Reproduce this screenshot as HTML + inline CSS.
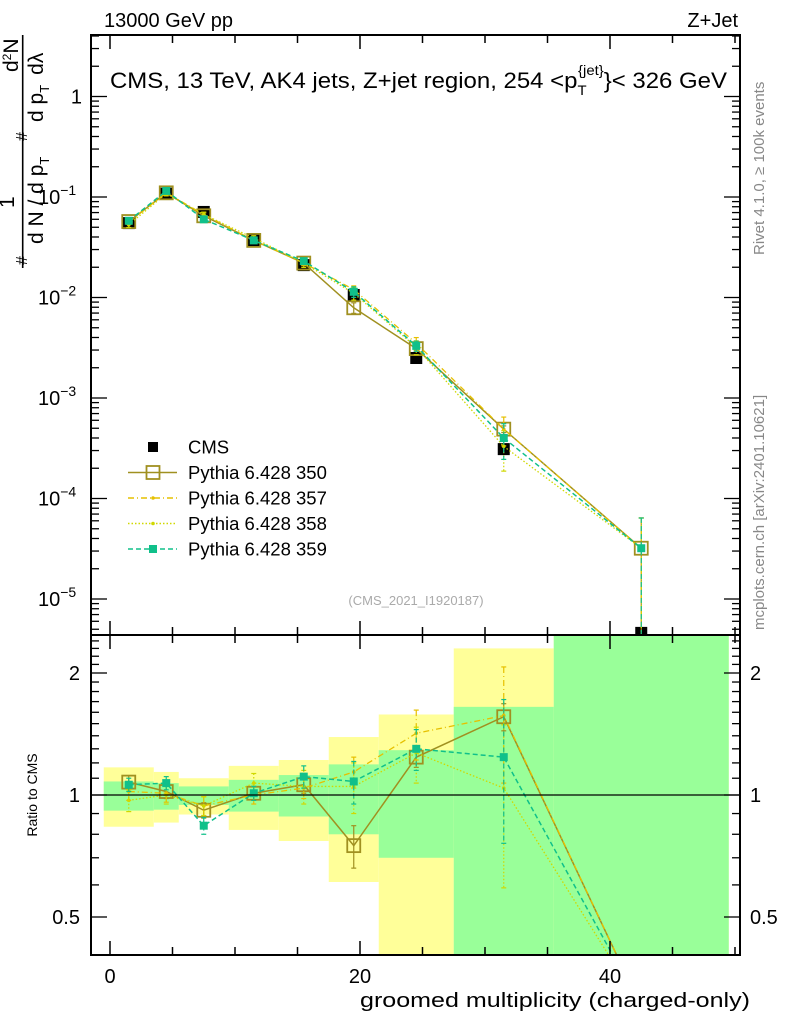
<!DOCTYPE html>
<html><head><meta charset="utf-8"><style>
html,body{margin:0;padding:0;background:#fff;overflow:hidden;width:786px;height:1024px;}
svg{display:block;font-family:"Liberation Sans",sans-serif;}
</style></head><body>
<svg id="c" width="786" height="1024" viewBox="0 0 786 1024" xmlns="http://www.w3.org/2000/svg">
<defs>
<clipPath id="cm"><rect x="91" y="35" width="649" height="600"/></clipPath>
<clipPath id="cr"><rect x="91" y="635" width="649" height="320"/></clipPath>
</defs>
<g id="bands" clip-path="url(#cr)"></g>
<g id="main" clip-path="url(#cm)"></g>
<g id="ratio" clip-path="url(#cr)"></g>
<g id="axes"></g>
<text x="104" y="27" font-size="20">13000 GeV pp</text>
<text x="738" y="27" font-size="20" text-anchor="end">Z+Jet</text>
<text x="110" y="88" font-size="22.5" textLength="617" lengthAdjust="spacingAndGlyphs">CMS, 13 TeV, AK4 jets, Z+jet region, 254 &lt;p<tspan font-size="14" dy="7">T</tspan><tspan font-size="14" dx="-8" dy="-20">{jet}</tspan><tspan dy="13">}&lt; 326 GeV</tspan></text>
<text x="416" y="605" font-size="13" fill="#aaa" text-anchor="middle">(CMS_2021_I1920187)</text>
<text transform="translate(764,255) rotate(-90)" font-size="15" fill="#888">Rivet 4.1.0, ≥ 100k events</text>
<text transform="translate(764,630) rotate(-90)" font-size="15" fill="#888">mcplots.cern.ch [arXiv:2401.10621]</text>
<text x="750" y="1007" font-size="20" text-anchor="end" textLength="390" lengthAdjust="spacingAndGlyphs">groomed multiplicity (charged-only)</text>
<text transform="translate(37,795) rotate(-90)" font-size="14" text-anchor="middle">Ratio to CMS</text>
<g font-size="21">
<text transform="translate(14,208) rotate(-90)">1</text>
<text transform="translate(18,72) rotate(-90)">d<tspan font-size="12" dy="-7">2</tspan><tspan dy="7">N</tspan></text>
<line x1="22.7" y1="35" x2="22.7" y2="268" stroke="#000" stroke-width="1.6"/>
<text transform="translate(27,265) rotate(-90)" font-size="16">#</text>
<text transform="translate(43,244) rotate(-90)">d N / d p<tspan font-size="13" dy="6">T</tspan></text>
<text transform="translate(27,141) rotate(-90)" font-size="16">#</text>
<text transform="translate(43,122) rotate(-90)">d p<tspan font-size="13" dy="6">T</tspan><tspan dx="10" dy="-6">dλ</tspan></text>
</g>
<g id="legend"></g>
</svg>
<script>
const edges=[-0.5,3.5,5.5,9.5,13.5,17.5,21.5,27.5,35.5,49.5];
const centers=[1.5,4.5,7.5,11.5,15.5,19.5,24.5,31.5,42.5];
const cms=[0.055,0.108,0.071,0.037,0.021,0.0106,0.0025,0.00031,0.0000046];
const p350=[0.057,0.11,0.065,0.037,0.022,0.0079,0.0031,0.00049,0.000032];
const p357=[0.056,0.11,0.067,0.037,0.022,0.012,0.0035,0.00049,0.000032];
const p358=[0.053,0.108,0.067,0.039,0.022,0.011,0.0032,0.00033,0.000032];
const p359=[0.058,0.115,0.06,0.037,0.023,0.0114,0.0033,0.0004,0.000032];
const r350=[1.076,1.02,0.917,1.01,1.06,0.75,1.24,1.56,0.3];
const r357=[1.02,1.01,0.94,1.0,1.04,1.14,1.42,1.57,0.3];
const r358=[0.97,1.0,0.94,1.07,1.05,1.05,1.27,1.04,0.3];
const r359=[1.06,1.07,0.84,1.01,1.11,1.08,1.30,1.24,0.3];
const e350=[0.04,0.04,0.04,0.04,0.05,0.09,0.07,0.12,0.3];
const e357=[0.05,0.05,0.05,0.05,0.06,0.1,0.2,0.5,0.3];
const e358=[0.06,0.05,0.05,0.06,0.1,0.15,0.2,0.45,0.3];
const e359=[0.04,0.04,0.04,0.04,0.07,0.13,0.15,0.48,0.3];
const yelLo=[0.835,0.855,0.895,0.82,0.77,0.61,0.39,0.39,0.39];
const yelHi=[1.17,1.14,1.10,1.18,1.22,1.39,1.58,2.30,2.6];
const grnLo=[0.915,0.92,0.945,0.91,0.885,0.80,0.70,0.39,0.39];
const grnHi=[1.08,1.07,1.05,1.09,1.12,1.19,1.29,1.65,2.6];
const xTicks=[0,20,40];
const mainTicks=[0,-1,-2,-3,-4,-5];
const ratioTicks=[2,1,0.5];
const X=v=>110+12.5*v;
const Y=v=>96.5-100.5*Math.log10(Math.max(v,1e-9));
const R=v=>795-122*Math.log2(Math.max(v,0.01));
const NS="http://www.w3.org/2000/svg";
function mk(p,t,a){const e=document.createElementNS(NS,t);for(const k in a)e.setAttribute(k,a[k]);document.getElementById(p).appendChild(e);return e;}
for(let i=0;i<centers.length;i++){
 let e=mk('bands','rect',{x:X(edges[i]),y:R(yelHi[i]),width:X(edges[i+1])-X(edges[i]),height:R(yelLo[i])-R(yelHi[i]),fill:'#ffff99'});
 
 
}
for(let i=0;i<centers.length;i++){
 let e=mk('bands','rect',{x:X(edges[i]),y:R(grnHi[i]),width:X(edges[i+1])-X(edges[i]),height:R(grnLo[i])-R(grnHi[i]),fill:'#99ff99'});
 
 
}
const series=[
 {n:'pythia-350',v:p350,r:r350,e:e350,c:'#a09020',d:'',w:1.5,m:'sq'},
 {n:'pythia-357',v:p357,r:r357,e:e357,c:'#e6c000',d:'6,3,1,3',w:1.3,m:'dot'},
 {n:'pythia-358',v:p358,r:r358,e:e358,c:'#d0d800',d:'1.5,2',w:1.3,m:'dot'},
 {n:'pythia-359',v:p359,r:r359,e:e359,c:'#10c08a',d:'5,3',w:1.5,m:'fsq'}];
function marker(g,m,x,y,c,name){
 let e;
 if(m==='sq')e=mk(g,'rect',{x:x-6.5,y:y-6.5,width:13,height:13,fill:'none',stroke:c,'stroke-width':1.8});
 else if(m==='fsq')e=mk(g,'rect',{x:x-4,y:y-4,width:8,height:8,fill:c});
 else e=mk(g,'circle',{cx:x,cy:y,r:1.8,fill:c});
 
 
}
function ebar(g,x,y1,y2,c,d,name){
 let e=mk(g,'line',{x1:x,x2:x,y1:y1,y2:y2,stroke:c,'stroke-width':1.2,'stroke-dasharray':d});
 
 
 mk(g,'line',{x1:x-2.5,x2:x+2.5,y1:y1,y2:y1,stroke:c,'stroke-width':1.2});
 mk(g,'line',{x1:x-2.5,x2:x+2.5,y1:y2,y2:y2,stroke:c,'stroke-width':1.2});
}
for(let i=0;i<centers.length;i++){
 let e=mk('main','rect',{x:X(centers[i])-6,y:Y(cms[i])-6,width:12,height:12,fill:'#000'});
 
 
}
series.forEach(s=>{
 s.v.forEach((v,i)=>{const f=s.e[i]/s.r[i];ebar('main',X(centers[i]),Y(v*(1+f)),Y(v*Math.max(1-f,0.001)),s.c,s.d,s.n+'-error-bar');});
 s.r.forEach((v,i)=>{if(v<0.4)return;ebar('ratio',X(centers[i]),R(v+s.e[i]),R(Math.max(v-s.e[i],0.01)),s.c,s.d,s.n+'-ratio-error-bar');});
 let pm=s.v.map((v,i)=>X(centers[i])+','+Y(v)).join(' ');
 let l=mk('main','polyline',{points:pm,fill:'none',stroke:s.c,'stroke-width':s.w,'stroke-dasharray':s.d});
 
 
 s.v.forEach((v,i)=>marker('main',s.m,X(centers[i]),Y(v),s.c,s.n+'-point'));
 let pr=s.r.map((v,i)=>X(centers[i])+','+R(v)).join(' ');
 let l2=mk('ratio','polyline',{points:pr,fill:'none',stroke:s.c,'stroke-width':s.w,'stroke-dasharray':s.d});
 
 
 s.r.forEach((v,i)=>marker('ratio',s.m,X(centers[i]),R(v),s.c,s.n+'-ratio-point'));
});
let ref=mk('axes','line',{x1:91,x2:740,y1:R(1),y2:R(1),stroke:'#000','stroke-width':1.2});


for(const [y,h] of [[35,600],[635,320]]){
 let f=mk('axes','rect',{x:91,y:y,width:649,height:h,fill:'none',stroke:'#000','stroke-width':2});
 
 
}
for(let v=0;v<=50;v+=5){
 const L=(v%20===0)?14:8;
 for(const [yb,yt] of [[955,635],[635,35]]){
  mk('axes','line',{x1:X(v),x2:X(v),y1:yb,y2:yb-L,stroke:'#000','stroke-width':1.5});
  mk('axes','line',{x1:X(v),x2:X(v),y1:yt,y2:yt+L,stroke:'#000','stroke-width':1.5});
 }
}
xTicks.forEach(v=>{
 let t=mk('axes','text',{x:X(v),y:983,'font-size':20,'text-anchor':'middle'});t.textContent=v;
 
 
});
for(let d=1;d>=-6;d--){
 for(let k=1;k<10;k++){
  const yy=Y(k*Math.pow(10,d));
  if(yy<35||yy>635)continue;
  const L=k===1?16:8;
  mk('axes','line',{x1:91,x2:91+L,y1:yy,y2:yy,stroke:'#000','stroke-width':1.3});
  mk('axes','line',{x1:740,x2:740-L,y1:yy,y2:yy,stroke:'#000','stroke-width':1.3});
 }
}
mainTicks.forEach(d=>{
 let t;
 if(d===0){t=mk('axes','text',{x:82,y:Y(1)+7,'font-size':20,'text-anchor':'end'});t.textContent='1';}
 else{
  t=mk('axes','text',{x:38,y:Y(Math.pow(10,d))+7,'font-size':20});
  t.textContent='10';
  const s=document.createElementNS(NS,'tspan');s.setAttribute('dy','-9');s.setAttribute('font-size','14');s.textContent='\u2212'+(-d);t.appendChild(s);
 }
 
 
});
for(let v=0.4;v<=2.5;v+=0.1){
 const yy=R(v);if(yy<635||yy>955)continue;
 const maj=Math.abs(v-1)<1e-6||Math.abs(v-2)<1e-6||Math.abs(v-0.5)<1e-6;
 const L=maj?16:8;
 mk('axes','line',{x1:91,x2:91+L,y1:yy,y2:yy,stroke:'#000','stroke-width':1.3});
 mk('axes','line',{x1:740,x2:740-L,y1:yy,y2:yy,stroke:'#000','stroke-width':1.3});
}
ratioTicks.forEach(v=>{
 let t=mk('axes','text',{x:80,y:R(v)+7,'font-size':20,'text-anchor':'end'});t.textContent=v;
 
 
 let t2=mk('axes','text',{x:750,y:R(v)+7,'font-size':20});t2.textContent=v;
 
 
});
const leg=[['CMS','#000','','cms'],['Pythia 6.428 350','#a09020','','sq'],['Pythia 6.428 357','#e6c000','6,3,1,3','dot'],['Pythia 6.428 358','#d0d800','1.5,2','dot'],['Pythia 6.428 359','#10c08a','5,3','fsq']];
leg.forEach((e,i)=>{
 const y=447+25.5*i;
 if(e[3]==='cms'){let r=mk('legend','rect',{x:148,y:y-5,width:10,height:10,fill:'#000'});}
 else{let l=mk('legend','line',{x1:128,x2:177,y1:y,y2:y,stroke:e[1],'stroke-width':1.5,'stroke-dasharray':e[2]});marker('legend',e[3],153,y,e[1],'legend-marker');}
 let t=mk('legend','text',{x:188,y:y+6.5,'font-size':18.5});t.textContent=e[0];
 
 
});
</script>
</body></html>
